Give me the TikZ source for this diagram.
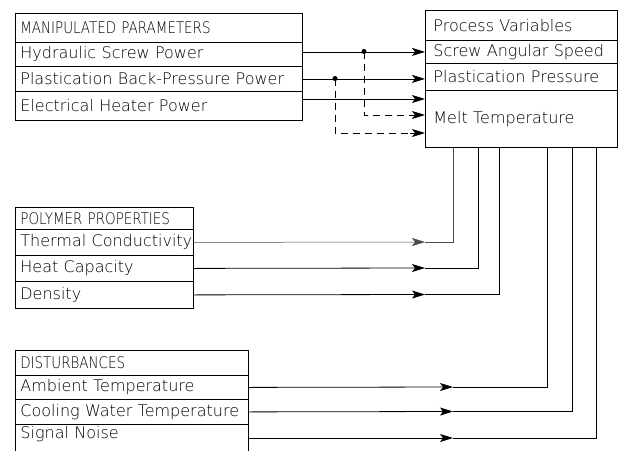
\documentclass[tikz,border=0pt]{standalone}
\usepackage{fontspec}
\usetikzlibrary{arrows.meta,calc}
\newfontfamily\cadfont{DejaVu Sans ExtraLight}
\newfontfamily\cadcapsfont{DejaVu Sans ExtraLight}[FakeStretch=0.84]
\begin{document}
\begin{tikzpicture}[x=1pt,y=-1pt,
  row/.style={draw, line width=0.8pt, anchor=north west, inner xsep=5pt, inner ysep=0pt,
    align=left, font=\fontsize{16}{18}\selectfont\cadfont},
  caprow/.style={row, font=\fontsize{16}{18}\selectfont\cadcapsfont},
  conn/.style={line width=0.8pt},
  thin conn/.style={line width=0.5pt, black!70},
  tip/.style={-{Stealth[length=13pt,width=8pt,inset=3pt]}},
  arr/.style={conn, tip},
  dsh/.style={conn, dashed, dash pattern=on 7pt off 5pt},
  jdot/.style={circle, fill, inner sep=0pt, minimum size=5pt}
]
\useasboundingbox (0,0) rectangle (621,450);
\fill[white] (0,0) rectangle (621,450);

% Manipulated parameters
\node[caprow, text width=277pt, minimum height=29pt] (m0) at (15,13) {\mbox{MANIPULATED PARAMETERS}};
\node[row, text width=277pt, minimum height=24pt] (m1) at (15,42) {\mbox{Hydraulic Screw Power}};
\node[row, text width=277pt, minimum height=25pt] (m2) at (15,66) {\mbox{Plastication Back-Pressure Power}};
\node[row, text width=277pt, minimum height=29pt] (m3) at (15,91) {\mbox{Electrical Heater Power}};

% Process variables
\node[row, inner xsep=8pt, text width=176pt, minimum height=30pt] (p0) at (425,10) {\mbox{Process Variables}};
\node[row, inner xsep=8pt, text width=176pt, minimum height=23pt] (p1) at (425,40) {\mbox{Screw Angular Speed}};
\node[row, inner xsep=8pt, text width=176pt, minimum height=27pt] (p2) at (425,63) {\mbox{Plastication Pressure}};
\node[row, inner xsep=8pt, text width=176pt, minimum height=57pt] (p3) at (425,90) {\mbox{Melt Temperature}\\[14pt]};

% Polymer properties
\node[caprow, text width=168pt, minimum height=22pt] (q0) at (15,207) {\mbox{POLYMER PROPERTIES}};
\node[row, text width=168pt, minimum height=26pt] (q1) at (15,229) {\mbox{Thermal Conductivity}};
\node[row, text width=168pt, minimum height=26pt] (q2) at (15,255) {\mbox{Heat Capacity}};
\node[row, text width=168pt, minimum height=27pt] (q3) at (15,281) {\mbox{Density}};

% Disturbances
\node[caprow, text width=223pt, minimum height=25pt] (d0) at (15,350) {\mbox{DISTURBANCES}};
\node[row, text width=223pt, minimum height=24pt] (d1) at (15,375) {\mbox{Ambient Temperature}};
\node[row, text width=223pt, minimum height=25pt] (d2) at (15,399) {\mbox{Cooling Water Temperature}};
\node[row, draw=none, text width=223pt, minimum height=20pt] (d3) at (15,424) {\mbox{Signal Noise}};
\draw[line width=0.8pt] (d3.north west) -- ++(0,40) (d3.north west) -- (d3.north east) -- ++(0,40);

% Top connectors
\coordinate (e1) at (425,99);
\coordinate (j1) at (364,51.5);
\coordinate (j2) at (335,78.5);
\coordinate (k1) at (425,115);
\coordinate (k2) at (425,133);
\draw[arr] (m1.east |- p1.west) -- (p1.west);
\draw[arr] (m2.east) -- (m2.east -| p2.west);
\draw[arr] (m3.east |- e1) -- (e1);
\draw[dsh] (j1) |- ($(k1)+(-12,0)$);
\draw[arr] ($(k1)+(-15,0)$) -- (k1);
\draw[dsh] (j2) |- ($(k2)+(-12,0)$);
\draw[arr] ($(k2)+(-15,0)$) -- (k2);
\node[jdot] (dot1) at (j1) {};
\node[jdot] (dot2) at (j2) {};

% Polymer connectors
\coordinate (a1) at (425,242);   \coordinate (c1) at (453,242);
\coordinate (a2) at (425,268);   \coordinate (c2) at (478,268);
\coordinate (a3) at (425,294.5); \coordinate (c3) at (499,294.5);
\draw[thin conn, tip] (q1.east) -- (a1);
\draw[thin conn] (a1) -- (c1) -- (c1 |- p3.south);
\draw[arr] (q2.east) -- (a2);
\draw[conn] (a2) -- (c2) -- (c2 |- p3.south);
\draw[arr] (q3.east) -- (a3);
\draw[conn] (a3) -- (c3) -- (c3 |- p3.south);

% Disturbance connectors
\coordinate (a4) at (453,387);   \coordinate (c4) at (547,387);
\coordinate (a5) at (453,411.5); \coordinate (c5) at (572,411.5);
\coordinate (a6) at (453,438);   \coordinate (c6) at (596,438);
\draw[arr] (d1.east) -- (a4);
\draw[conn] (a4) -- (c4) -- (c4 |- p3.south);
\draw[arr] (d2.east) -- (a5);
\draw[conn] (a5) -- (c5) -- (c5 |- p3.south);
\draw[arr] (d3.east |- a6) -- (a6);
\draw[conn] (a6) -- (c6) -- (c6 |- p3.south);
\end{tikzpicture}
\end{document}
